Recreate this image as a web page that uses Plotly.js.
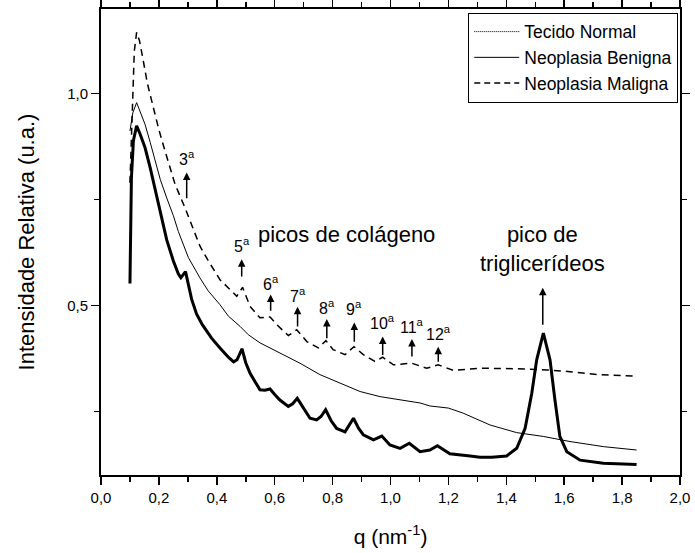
<!DOCTYPE html>
<html>
<head>
<meta charset="utf-8">
<script src="https://cdn.plot.ly/plotly-3.0.1.min.js"></script>
<style>html,body{margin:0;padding:0;background:#fff;}#chart{width:695px;height:553px;}</style>
</head>
<body>
<div id="chart"></div>
<script>
// Tecido Normal
const qNormal = [0.100,0.101,0.105,0.112,0.123,0.135,0.152,0.170,0.187,0.205,0.227,0.250,0.267,0.276,0.292,0.313,0.330,0.350,0.382,0.411,0.440,0.458,0.470,0.487,0.500,0.515,0.549,0.566,0.584,0.600,0.618,0.647,0.662,0.678,0.700,0.722,0.745,0.760,0.776,0.795,0.814,0.843,0.872,0.890,0.906,0.941,0.970,0.998,1.033,1.065,1.102,1.136,1.162,1.205,1.275,1.309,1.350,1.401,1.436,1.465,1.488,1.505,1.528,1.551,1.568,1.585,1.609,1.655,1.735,1.790,1.850];
const vNormal = [0.552,0.650,0.800,0.890,0.924,0.905,0.873,0.825,0.774,0.720,0.655,0.605,0.575,0.566,0.580,0.515,0.480,0.455,0.423,0.400,0.378,0.367,0.372,0.398,0.365,0.340,0.301,0.300,0.303,0.290,0.277,0.262,0.268,0.281,0.256,0.234,0.230,0.238,0.254,0.228,0.210,0.202,0.234,0.210,0.195,0.183,0.192,0.171,0.163,0.175,0.155,0.159,0.169,0.150,0.145,0.142,0.142,0.145,0.163,0.210,0.293,0.372,0.435,0.372,0.277,0.191,0.155,0.135,0.128,0.126,0.125];
// Neoplasia Benigna
const qBenigna = [0.100,0.110,0.123,0.135,0.152,0.170,0.187,0.205,0.227,0.250,0.267,0.302,0.342,0.370,0.411,0.440,0.480,0.509,0.549,0.618,0.687,0.756,0.826,0.895,0.964,1.033,1.102,1.136,1.200,1.251,1.344,1.436,1.528,1.620,1.735,1.850];
const vBenigna = [0.912,0.955,0.979,0.958,0.928,0.885,0.841,0.797,0.754,0.712,0.675,0.613,0.565,0.535,0.502,0.475,0.451,0.431,0.412,0.388,0.364,0.337,0.317,0.297,0.285,0.277,0.270,0.263,0.258,0.246,0.218,0.200,0.191,0.179,0.167,0.159];
// Neoplasia Maligna
const qMaligna = [0.100,0.108,0.115,0.123,0.133,0.146,0.160,0.181,0.200,0.221,0.256,0.290,0.325,0.342,0.371,0.411,0.451,0.469,0.489,0.515,0.549,0.584,0.607,0.647,0.676,0.711,0.751,0.777,0.802,0.843,0.874,0.906,0.946,0.973,1.010,1.040,1.073,1.125,1.165,1.217,1.309,1.424,1.540,1.620,1.712,1.850];
const vMaligna = [0.790,0.980,1.100,1.145,1.125,1.078,1.025,0.967,0.915,0.865,0.786,0.731,0.668,0.640,0.605,0.561,0.534,0.522,0.543,0.498,0.471,0.473,0.455,0.429,0.443,0.415,0.400,0.417,0.396,0.384,0.403,0.384,0.368,0.378,0.360,0.362,0.364,0.352,0.360,0.347,0.352,0.351,0.348,0.344,0.337,0.333];
// collagen peak markers
const peakOrder = ['3','5','6','7','8','9','10','11','12'];
const peakQ = [0.296,0.486,0.586,0.679,0.780,0.875,0.973,1.074,1.165];
const arrowTail = [0.750,0.565,0.484,0.447,0.419,0.411,0.380,0.376,0.364];
const arrowHead = [0.814,0.609,0.526,0.497,0.468,0.460,0.427,0.421,0.403];
const labelY = [0.849,0.644,0.553,0.526,0.497,0.494,0.460,0.451,0.435];
// triglyceride peak
const trigQ = 1.526, trigTail = 0.451, trigHead = 0.542, trigLabelY = 0.634;
const colagenoQ = 0.849, colagenoY = 0.668;

const font = 'Arial, "Liberation Sans", sans-serif';

const traces = [
  {x: qNormal, y: vNormal, mode: 'lines', line: {color: '#000', width: 3}, showlegend: false, hoverinfo: 'skip'},
  {x: qBenigna, y: vBenigna, mode: 'lines', line: {color: '#000', width: 1}, showlegend: false},
  {x: qMaligna, y: vMaligna, mode: 'lines', line: {color: '#000', width: 1.5, dash: '7px,5px'}, showlegend: false},
  // legend entries
  {x: [null], y: [null], mode: 'lines', name: 'Tecido Normal', line: {color: '#000', width: 1, dash: '1px,1px'}},
  {x: [null], y: [null], mode: 'lines', name: 'Neoplasia Benigna', line: {color: '#000', width: 1}},
  {x: [null], y: [null], mode: 'lines', name: 'Neoplasia Maligna', line: {color: '#000', width: 1.5, dash: '6px,4px'}}
];

const annotations = [];
peakQ.forEach((q, i) => {
  annotations.push({x: q, y: arrowHead[i], ax: q, ay: arrowTail[i], axref: 'x', ayref: 'y', xref: 'x', yref: 'y',
    text: '', showarrow: true, arrowhead: 2, arrowsize: 1, arrowwidth: 1.5, arrowcolor: '#000'});
  annotations.push({x: q, y: labelY[i], xref: 'x', yref: 'y', text: peakOrder[i] + '<sup>a</sup>', showarrow: false,
    font: {family: font, size: 16, color: '#000'}, xanchor: 'center', yanchor: 'middle'});
});
annotations.push({x: trigQ, y: trigHead, ax: trigQ, ay: trigTail, axref: 'x', ayref: 'y', xref: 'x', yref: 'y',
  text: '', showarrow: true, arrowhead: 2, arrowsize: 1, arrowwidth: 1.5, arrowcolor: '#000'});
annotations.push({x: trigQ, y: trigLabelY, xref: 'x', yref: 'y', text: 'pico de<br>triglicerídeos', showarrow: false,
  font: {family: font, size: 22, color: '#000'}, align: 'center'});
annotations.push({x: colagenoQ, y: colagenoY, xref: 'x', yref: 'y', text: 'picos de colágeno', showarrow: false,
  font: {family: font, size: 22, color: '#000'}});

const layout = {
  width: 695, height: 553,
  margin: {l: 101, r: 15, t: 9, b: 78},
  paper_bgcolor: '#fff', plot_bgcolor: '#fff',
  separators: ',.',
  font: {family: font, size: 15, color: '#000'},
  showlegend: true,
  legend: {x: 0.997, y: 0.992, xanchor: 'right', yanchor: 'top', bgcolor: '#fff', bordercolor: '#000', borderwidth: 1,
    font: {family: font, size: 17.5, color: '#000'}, tracegroupgap: 0, itemwidth: 45},
  xaxis: {range: [0, 2], tickmode: 'linear', tick0: 0, dtick: 0.2, tickformat: '.1f', ticks: 'outside', ticklen: 8, tickwidth: 1.5,
    tickcolor: '#000', showline: true, mirror: 'ticks', linecolor: '#000', linewidth: 2, showgrid: false, zeroline: false,
    minor: {dtick: 0.1, ticks: 'outside', ticklen: 5, tickwidth: 1.5, tickcolor: '#000'},
    tickfont: {family: font, size: 15}, title: {text: 'q (nm<sup>-1</sup>)', font: {family: font, size: 21}, standoff: 24}},
  yaxis: {range: [0.1, 1.2], tickmode: 'linear', tick0: 0, dtick: 0.5, tickformat: '.1f', ticks: 'outside', ticklen: 8, tickwidth: 1.5,
    tickcolor: '#000', showline: true, mirror: 'ticks', linecolor: '#000', linewidth: 2, showgrid: false, zeroline: false,
    minor: {dtick: 0.25, ticks: 'outside', ticklen: 5, tickwidth: 1.5, tickcolor: '#000'},
    tickfont: {family: font, size: 15}, title: {text: 'Intensidade Relativa (u.a.)', font: {family: font, size: 22}, standoff: 26}},
  annotations: annotations
};

Plotly.newPlot('chart', traces, layout, {displayModeBar: false, staticPlot: true});
</script>
</body>
</html>
